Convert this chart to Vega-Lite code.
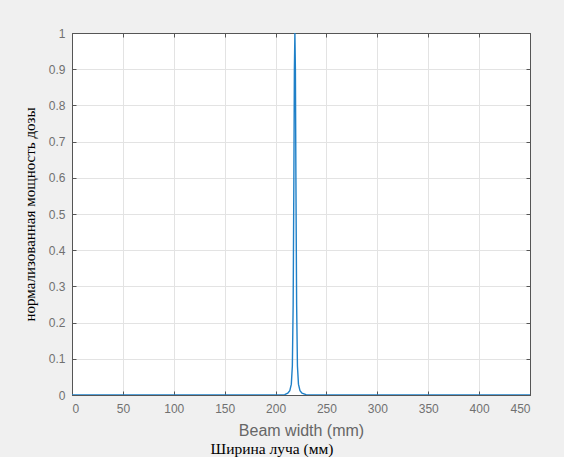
{
  "$schema": "https://vega.github.io/schema/vega-lite/v6.json",
  "width": 458,
  "height": 362,
  "autosize": {"type": "none"},
  "padding": {"left": 72, "top": 33, "right": 34, "bottom": 62},
  "background": "#f0f0f0",
  "config": {
    "view": {"fill": "white", "stroke": "#555555", "strokeWidth": 1},
    "axis": {
      "labelFont": "Liberation Sans",
      "labelFontSize": 12,
      "labelColor": "#707070",
      "titleFont": "Liberation Sans",
      "titleFontWeight": "normal",
      "domainColor": "#555555",
      "tickColor": "#555555",
      "tickSize": -4,
      "gridColor": "#e3e3e3",
      "gridWidth": 1
    }
  },
  "title": {
    "text": "Ширина луча (мм)",
    "orient": "bottom",
    "font": "Liberation Serif",
    "fontSize": 15.5,
    "fontWeight": "normal",
    "color": "black",
    "offset": 4,
    "dx": -29
  },
  "data": {
    "values": [
      {"x": 0, "y": 0.0},
      {"x": 100, "y": 0.0},
      {"x": 200, "y": 0.0},
      {"x": 209, "y": 0.001},
      {"x": 212, "y": 0.005},
      {"x": 214, "y": 0.012},
      {"x": 215.5, "y": 0.03},
      {"x": 216.5, "y": 0.08},
      {"x": 217.3, "y": 0.25},
      {"x": 218, "y": 0.6},
      {"x": 218.5, "y": 0.9},
      {"x": 219, "y": 1.0},
      {"x": 219.5, "y": 0.9},
      {"x": 220, "y": 0.6},
      {"x": 220.7, "y": 0.25},
      {"x": 221.5, "y": 0.08},
      {"x": 222.5, "y": 0.03},
      {"x": 224, "y": 0.012},
      {"x": 226, "y": 0.005},
      {"x": 230, "y": 0.001},
      {"x": 240, "y": 0.0},
      {"x": 350, "y": 0.0},
      {"x": 450, "y": 0.0}
    ]
  },
  "layer": [
    {
      "mark": {"type": "line", "color": "#1f80c8", "strokeWidth": 1.4, "clip": true},
      "encoding": {
        "x": {
          "field": "x",
          "type": "quantitative",
          "scale": {"domain": [0, 450], "nice": false, "zero": false},
          "axis": {
            "values": [0, 50, 100, 150, 200, 250, 300, 350, 400, 450],
            "title": "Beam width (mm)",
            "titleFontSize": 16,
            "titleColor": "#666666",
            "titlePadding": 8,
            "labelPadding": 12,
            "grid": true
          }
        },
        "y": {
          "field": "y",
          "type": "quantitative",
          "scale": {"domain": [0, 1], "nice": false},
          "axis": {
            "values": [0, 0.1, 0.2, 0.3, 0.4, 0.5, 0.6, 0.7, 0.8, 0.9, 1],
            "format": "~g",
            "title": "нормализованная мощность дозы",
            "titleFont": "Liberation Serif",
            "titleFontSize": 15,
            "titleColor": "black",
            "titleX": -43,
            "titleY": 181,
            "titleAngle": 270,
            "titleAlign": "center",
            "titleBaseline": "middle",
            "labelPadding": 11,
            "grid": true
          }
        }
      }
    },
    {
      "mark": {"type": "line", "opacity": 0},
      "encoding": {
        "x": {
          "field": "x",
          "type": "quantitative",
          "axis": {
            "orient": "top",
            "values": [0, 50, 100, 150, 200, 250, 300, 350, 400, 450],
            "labels": false,
            "grid": false,
            "title": null
          }
        },
        "y": {
          "field": "y",
          "type": "quantitative",
          "axis": {
            "orient": "right",
            "values": [0, 0.1, 0.2, 0.3, 0.4, 0.5, 0.6, 0.7, 0.8, 0.9, 1],
            "labels": false,
            "grid": false,
            "title": null
          }
        }
      }
    }
  ],
  "resolve": {"axis": {"x": "independent", "y": "independent"}}
}
